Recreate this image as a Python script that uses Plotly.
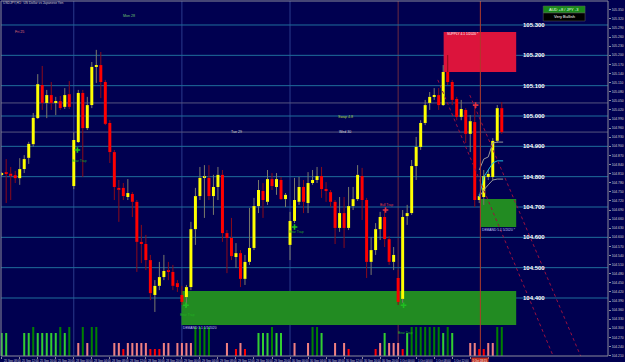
import plotly.graph_objects as go

BG = "#000050"

# ---------------- data (USDJPY H1) ----------------
opens = [104.807, 104.813, 104.810, 104.805, 104.795, 104.825, 104.862, 104.907, 104.993, 105.102,
         105.043, 105.069, 105.043, 105.049, 105.030, 105.072, 104.769, 104.914, 105.076, 104.960,
         105.036, 105.162, 105.168, 105.112, 104.977, 104.881, 104.763, 104.763, 104.733, 104.743,
         104.717, 104.585, 104.578, 104.525, 104.410, 104.440, 104.469, 104.489, 104.486, 104.449,
         104.410, 104.403, 104.436, 104.627, 104.736, 104.797, 104.796, 104.736, 104.766, 104.806,
         104.614, 104.598, 104.535, 104.548, 104.463, 104.519, 104.565, 104.703, 104.753, 104.717,
         104.792, 104.766, 104.789, 104.726, 104.575, 104.654, 104.717, 104.766, 104.713, 104.779,
         104.789, 104.802, 104.759, 104.749, 104.717, 104.631, 104.680, 104.631, 104.703, 104.726,
         104.802, 104.723, 104.519, 104.558, 104.627, 104.667, 104.594, 104.519, 104.466, 104.397,
         104.670, 104.680, 104.835, 104.898, 104.977, 105.043, 105.063, 105.069, 105.036, 105.145,
         105.112, 105.056, 104.997, 105.020, 104.941, 104.980, 104.723, 104.733, 104.799, 104.799,
         104.918, 105.026]
highs = [104.815, 104.858, 104.832, 104.819, 104.861, 104.871, 104.915, 105.010, 105.138, 105.165,
         105.086, 105.112, 105.063, 105.066, 105.092, 105.115, 104.947, 105.086, 105.086, 105.063,
         105.178, 105.218, 105.211, 105.119, 104.986, 104.888, 104.789, 104.779, 104.792, 104.749,
         104.723, 104.641, 104.608, 104.542, 104.459, 104.519, 104.542, 104.519, 104.509, 104.459,
         104.440, 104.443, 104.651, 104.763, 104.832, 104.838, 104.838, 104.806, 104.832, 104.822,
         104.624, 104.664, 104.581, 104.558, 104.542, 104.697, 104.730, 104.789, 104.779, 104.822,
         104.812, 104.812, 104.799, 104.746, 104.684, 104.796, 104.799, 104.789, 104.815, 104.822,
         104.832, 104.832, 104.782, 104.756, 104.723, 104.733, 104.733, 104.766, 104.766, 104.838,
         104.829, 104.730, 104.601, 104.647, 104.684, 104.690, 104.604, 104.568, 104.492, 104.690,
         104.707, 104.855, 104.931, 104.986, 105.053, 105.079, 105.092, 105.092, 105.168, 105.201,
         105.119, 105.063, 105.053, 105.026, 105.003, 105.036, 104.743, 104.822, 104.822, 104.927,
         105.036, 105.046]
lows = [104.802, 104.713, 104.723, 104.779, 104.773, 104.812, 104.842, 104.899, 104.990, 105.020,
        104.993, 105.020, 105.003, 105.020, 105.023, 105.023, 104.759, 104.911, 104.799, 104.954,
        105.026, 105.109, 105.059, 104.970, 104.845, 104.723, 104.651, 104.723, 104.723, 104.667,
        104.486, 104.515, 104.492, 104.393, 104.354, 104.426, 104.459, 104.459, 104.426, 104.420,
        104.377, 104.370, 104.426, 104.575, 104.723, 104.664, 104.723, 104.674, 104.723, 104.585,
        104.482, 104.525, 104.499, 104.436, 104.443, 104.509, 104.558, 104.680, 104.664, 104.707,
        104.756, 104.740, 104.723, 104.700, 104.525, 104.647, 104.707, 104.680, 104.680, 104.773,
        104.779, 104.730, 104.717, 104.700, 104.578, 104.618, 104.565, 104.624, 104.690, 104.720,
        104.657, 104.466, 104.476, 104.542, 104.591, 104.568, 104.509, 104.492, 104.377, 104.384,
        104.641, 104.674, 104.789, 104.888, 104.970, 105.020, 105.053, 105.020, 105.033, 105.102,
        105.036, 104.986, 104.986, 104.911, 104.881, 104.700, 104.713, 104.707, 104.789, 104.789,
        104.911, 104.941]
closes = [104.810, 104.809, 104.805, 104.795, 104.825, 104.858, 104.908, 104.994, 105.105, 105.043,
          105.069, 105.043, 105.049, 105.026, 105.069, 105.030, 104.921, 105.076, 104.960, 105.036,
          105.162, 105.168, 105.112, 104.974, 104.881, 104.766, 104.759, 104.736, 104.746, 104.717,
          104.585, 104.578, 104.525, 104.416, 104.440, 104.469, 104.489, 104.486, 104.440, 104.436,
          104.387, 104.436, 104.627, 104.736, 104.796, 104.799, 104.736, 104.766, 104.806, 104.614,
          104.598, 104.538, 104.548, 104.463, 104.519, 104.565, 104.703, 104.756, 104.723, 104.792,
          104.769, 104.792, 104.726, 104.740, 104.654, 104.723, 104.766, 104.717, 104.779, 104.789,
          104.802, 104.759, 104.753, 104.717, 104.631, 104.680, 104.631, 104.703, 104.726, 104.806,
          104.723, 104.519, 104.558, 104.627, 104.667, 104.594, 104.519, 104.542, 104.387, 104.667,
          104.680, 104.835, 104.898, 104.977, 105.036, 105.063, 105.069, 105.036, 105.145, 105.112,
          105.053, 104.997, 105.023, 104.941, 104.983, 104.723, 104.736, 104.802, 104.809, 104.918,
          105.026, 104.947]
bars = list(range(len(opens)))

# histogram indicator: 0 none, 1 strong bear, 2 bear, 3 bull, 4 strong bull
signal_level = [3, 3, 0, 0, 0, 3, 3, 4, 3, 3, 3, 3, 3, 4, 3, 4, 0, 2, 4, 2,
                4, 4, 0, 0, 0, 2, 2, 1, 2, 2, 2, 2, 2, 1, 1, 1, 2, 2, 0, 2,
                2, 2, 2, 4, 4, 4, 4, 0, 0, 0, 2, 0, 1, 2, 1, 0, 0, 3, 3, 3,
                4, 3, 3, 0, 0, 2, 0, 0, 2, 4, 4, 3, 0, 0, 2, 0, 2, 1, 0, 0,
                0, 0, 0, 1, 2, 3, 2, 2, 2, 1, 3, 4, 4, 4, 4, 4, 4, 4, 3, 4,
                3, 0, 0, 0, 2, 2, 1, 1, 2, 2, 4, 4]
level_height = {0: 0, 1: 7, 2: 13, 3: 23, 4: 29}
level_color = {0: BG, 1: "#ff0000", 2: "#f08080", 3: "#32cd32", 4: "#008000"}

round_levels = [105.3, 105.2, 105.1, 105.0, 104.9, 104.8, 104.7, 104.6, 104.5, 104.4]
gray_levels = [105.043, 104.947]
day_starts = [16, 40, 64]
day_names = ["25 Sep", "28 Sep", "29 Sep", "30 Sep", "1 Oct"]
day_first_bar = [0, 16, 40, 64, 88]
day_first_hour = [8, 0, 0, 0, 0]
last_day_line = 88
event_line = 106.25
event_label = "1 Oct 18:15"

supply_zone = (98.1, 114.2, 105.145, 105.277)
demand_zone_right = (106.25, 114.2, 104.634, 104.726)
demand_zone_low = (39.9, 114.2, 104.311, 104.423)

trend_a = ([96.8, 122.4], [105.119, 104.209])
trend_b = ([103.9, 128.5], [105.069, 104.209])

band_x = [106, 107, 108, 109, 110, 111.3]
band_upper = [104.822, 104.858, 104.865, 104.911, 104.914, 104.914]
band_mid = [104.733, 104.799, 104.822, 104.845, 104.852, 104.852]
band_lower = [104.733, 104.756, 104.773, 104.789, 104.792, 104.792]

bear_trap_x = [16.8, 65.0, 40.9, 89.2]
bear_trap_y = [104.888, 104.634, 104.376, 104.376]
bull_trap_x = [85.2, 105.2]
bull_trap_y = [104.690, 105.036]

YMIN, YMAX = 104.2088, 105.3791
XMIN, XMAX = -0.155, 134.58


def px_x(px):
    return (px - 1.7) / 4.52


def px_y(py):
    return 105.3 - (py - 25) / 303.33


fig = go.Figure()

# wicks (split around the body)
up_x, up_y, dn_x, dn_y = [], [], [], []
body_base, body_h, body_col = [], [], []
for i, o, h, l, c in zip(bars, opens, highs, lows, closes):
    top, bot = max(o, c), min(o, c)
    if c >= o:
        xs, ys = up_x, up_y
        body_col.append("#ffff00")
    else:
        xs, ys = dn_x, dn_y
        body_col.append("#ff0000")
    xs += [i, i, None, i, i, None]
    ys += [h, top, None, bot, l, None]
    body_base.append(bot)
    body_h.append(max(top - bot, 0.0035))

fig.add_trace(go.Scatter(x=up_x, y=up_y, mode="lines", line=dict(color="#7a7a6a", width=1),
                         hoverinfo="skip"))
fig.add_trace(go.Scatter(x=dn_x, y=dn_y, mode="lines", line=dict(color="#8b0a1a", width=1),
                         hoverinfo="skip"))
fig.add_trace(go.Bar(x=bars, y=body_h, base=body_base, width=0.66,
                     marker=dict(color=body_col, line=dict(width=0))))

# volume-style histogram at the bottom
fig.add_trace(go.Bar(x=bars, y=[level_height[v] for v in signal_level], yaxis="y2", width=0.45,
                     marker=dict(color=[level_color[v] for v in signal_level], line=dict(width=0))))

# bands on the last bars
fig.add_trace(go.Scatter(x=band_x, y=band_upper, mode="lines", line=dict(color="#9a9a9a", width=1)))
fig.add_trace(go.Scatter(x=band_x, y=band_lower, mode="lines", line=dict(color="#9a9a9a", width=1)))
fig.add_trace(go.Scatter(x=band_x, y=band_mid, mode="lines", line=dict(color="#20c0e0", width=1)))

# trend lines
for tx, ty in (trend_a, trend_b):
    fig.add_trace(go.Scatter(x=tx, y=ty, mode="lines", line=dict(color="#9a1040", width=1, dash="dot")))

# trap markers
fig.add_trace(go.Scatter(x=bear_trap_x, y=bear_trap_y, mode="markers",
                         marker=dict(symbol="cross-thin", size=4, line=dict(color="#20c020", width=1.6))))
fig.add_trace(go.Scatter(x=bull_trap_x, y=bull_trap_y, mode="markers",
                         marker=dict(symbol="cross-thin", size=4, line=dict(color="#e03040", width=1.6))))

shapes = []
# zones
for (x0, x1, y0, y1), col in ((supply_zone, "#dc143c"), (demand_zone_right, "#228b22"),
                              (demand_zone_low, "#228b22")):
    shapes.append(dict(type="rect", xref="x", yref="y", x0=x0, x1=x1, y0=y0, y1=y1,
                       fillcolor=col, line=dict(width=0), layer="below"))
# day separators
for d in day_starts:
    shapes.append(dict(type="line", xref="x", yref="paper", x0=d, x1=d, y0=0, y1=1,
                       line=dict(color="#2a3a8c", width=1), layer="below"))
shapes.append(dict(type="line", xref="x", yref="paper", x0=last_day_line, x1=last_day_line, y0=0, y1=1,
                   line=dict(color="#6a2a40", width=1), layer="below"))
# round levels
for lv in round_levels:
    shapes.append(dict(type="line", xref="paper", yref="y", x0=0, x1=1, y0=lv, y1=lv,
                       line=dict(color="#1f6e9c", width=1), layer="below"))
for lv in gray_levels:
    shapes.append(dict(type="line", xref="paper", yref="y", x0=0, x1=1, y0=lv, y1=lv,
                       line=dict(color="#55557f", width=1), layer="below"))
# event line
shapes.append(dict(type="line", xref="x", yref="paper", x0=event_line, x1=event_line, y0=0, y1=1,
                   line=dict(color="#b03a2a", width=1), layer="above"))
# plot border
shapes.append(dict(type="rect", xref="paper", yref="paper", x0=0, x1=1, y0=0, y1=1,
                   line=dict(color="#8a8a9a", width=1), layer="above"))

ann = []
FONT = "Liberation Sans"


def text(t, px, py, color, size, xanchor="left", bg=None, bold=False):
    d = dict(text=("<b>%s</b>" % t) if bold else t, x=px_x(px), y=px_y(py), xref="x", yref="y",
             showarrow=False, xanchor=xanchor, yanchor="middle",
             font=dict(family=FONT, size=size, color=color), borderpad=0)
    if bg:
        d["bgcolor"] = bg
    ann.append(d)


for lv in round_levels:
    ann.append(dict(text="<b>%.3f</b>" % lv, x=px_x(523), y=lv, xref="x", yref="y", showarrow=False,
                    xanchor="left", yanchor="middle", font=dict(family=FONT, size=6, color="#ffffff")))

text("USDJPY,H1:  US Dollar vs Japanese Yen", 2, 3, "#c8c8c8", 3.3)
text("Fri 25", 14, 32, "#e07070", 3.6)
text("Mon 28", 122, 16.5, "#70c070", 3.6)
text("Tue 29", 231, 131.5, "#d8d8d8", 3.6)
text("Wed 30", 339, 131.5, "#d8d8d8", 3.6)
text("Swap 4.8", 338, 117, "#b0d040", 3.6)
for bx, by in ((71, 161), (289, 232), (180, 315), (398, 333)):
    text("Bear Trap", bx, by, "#20b020", 3.3)
text("Bull Trap", 380, 204.5, "#e04040", 3.3)
text("SUPPLY 4.1 1/2020 *", 447, 34, "#ffffff", 3.3)
text("DEMAND 5.1 5/2020 *", 483, 230, "#c0c8ff", 3.3)
text("DEMAND 3.1 1/1/2020", 183, 328, "#c0c8ff", 3.3)
text("105.043", 611, 103, "#ffffff", 3.3, bg="#6a6a8a")
text("104.947", 611, 132, "#ffffff", 3.3, bg="#6a6a8a")

shapes.append(dict(type="rect", xref="x", yref="y", x0=px_x(545), x1=px_x(587), y0=px_y(13), y1=px_y(6),
                   fillcolor="#1a8a1a", line=dict(color="#606060", width=0.5), layer="above"))
shapes.append(dict(type="rect", xref="x", yref="y", x0=px_x(545), x1=px_x(587), y0=px_y(21), y1=px_y(13),
                   fillcolor="#000000", line=dict(color="#606060", width=0.5), layer="above"))
text("AUD +8 / JPY -3", 566, 9.5, "#e8ffe8", 4, xanchor="center")
text("Very Bullish", 566, 17, "#ffffff", 4, xanchor="center")

# time axis labels (every 4 bars); the one hidden under the event label is skipped
for i in range(0, len(bars), 4):
    if abs(i - event_line) < 3:
        continue
    d = max(k for k in range(len(day_first_bar)) if day_first_bar[k] <= i)
    hour = day_first_hour[d] + i - day_first_bar[d]
    ann.append(dict(text="%s %02d:00" % (day_names[d], hour), x=i, y=0, xref="x", yref="paper",
                    showarrow=False, xanchor="left", yanchor="top", yshift=-0.5,
                    font=dict(family=FONT, size=2.8, color="#c8c8d8")))
ann.append(dict(text=event_label, x=event_line, y=0, xref="x", yref="paper", showarrow=False,
                xanchor="center", yanchor="top", yshift=-0.5, bgcolor="#c03020", borderpad=0.5,
                font=dict(family=FONT, size=2.8, color="#ffffff")))

ticks = [round(104.21 + 0.03 * k, 3) for k in range(39)]

fig.update_layout(
    width=625, height=362, margin=dict(l=1, r=15, t=1, b=6),
    paper_bgcolor=BG, plot_bgcolor="rgba(0,0,0,0)", showlegend=False, barmode="overlay",
    xaxis=dict(range=[XMIN, XMAX], showgrid=False, zeroline=False, showticklabels=False,
               ticks="outside", ticklen=2, tickcolor="#8a8a9a", tickvals=list(range(0, len(bars), 4)),
               showline=False),
    yaxis=dict(range=[YMIN, YMAX], side="right", showgrid=False, zeroline=False, tickvals=ticks,
               ticktext=["%.3f" % t for t in ticks], ticks="outside", ticklen=2, tickcolor="#8a8a9a",
               tickfont=dict(family=FONT, size=3.3, color="#d0d0d0"), showline=False),
    yaxis2=dict(domain=[0, 29 / 355], range=[0, 29], visible=False, anchor="x"),
    shapes=shapes, annotations=ann,
)

fig.write_html("out.html")
